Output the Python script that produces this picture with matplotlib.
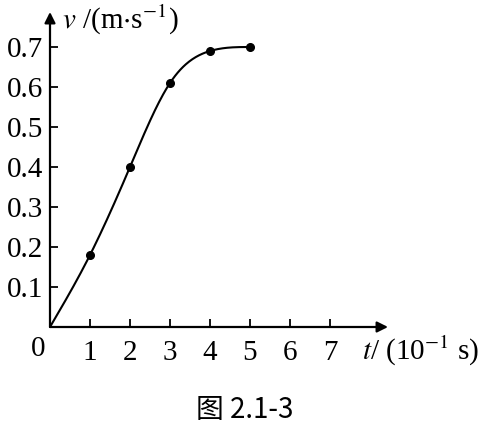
import numpy as np
import matplotlib
matplotlib.use('Agg')
import matplotlib.pyplot as plt

plt.rcParams['font.family'] = ['Liberation Serif', 'Noto Sans CJK SC', 'DejaVu Sans']
plt.rcParams['mathtext.fontset'] = 'stix'

t = [0, 1, 2, 3, 4, 5]
v = [0, 0.18, 0.40, 0.61, 0.69, 0.70]
xticks = [1, 2, 3, 4, 5, 6, 7]
yticks = [0.1, 0.2, 0.3, 0.4, 0.5, 0.6, 0.7]


def spline(x, y, xs):
    # natural cubic spline through the measured points
    x = np.asarray(x, float)
    y = np.asarray(y, float)
    n = len(x)
    h = np.diff(x)
    A = np.zeros((n, n))
    b = np.zeros(n)
    A[0, 0] = A[-1, -1] = 1
    for k in range(1, n - 1):
        A[k, k - 1] = h[k - 1]
        A[k, k] = 2 * (h[k - 1] + h[k])
        A[k, k + 1] = h[k]
        b[k] = 6 * ((y[k + 1] - y[k]) / h[k] - (y[k] - y[k - 1]) / h[k - 1])
    M = np.linalg.solve(A, b)
    idx = np.clip(np.searchsorted(x, xs) - 1, 0, n - 2)
    hk = h[idx]
    a = x[idx + 1] - xs
    c = xs - x[idx]
    return (M[idx] * a**3 / (6 * hk) + M[idx + 1] * c**3 / (6 * hk)
            + (y[idx] / hk - M[idx] * hk / 6) * a
            + (y[idx + 1] / hk - M[idx + 1] * hk / 6) * c)


fig = plt.figure(figsize=(4.8, 4.34), dpi=100)
ax = fig.add_axes([50 / 480, 107 / 434, 338 / 480, 315 / 434])
ax.set_xlim(0, 338 / 40)
ax.set_ylim(0, 315 / 400)
for s in ax.spines.values():
    s.set_visible(False)

# axes with arrows
ax.annotate('', xy=(1, 0), xytext=(0, 0), xycoords='axes fraction',
            arrowprops=dict(arrowstyle='-|>', color='black', lw=1.6,
                            mutation_scale=16, shrinkA=0, shrinkB=0))
ax.annotate('', xy=(0, 1), xytext=(0, 0), xycoords='axes fraction',
            arrowprops=dict(arrowstyle='-|>', color='black', lw=1.6,
                            mutation_scale=16, shrinkA=0, shrinkB=0))

ax.set_xticks(xticks)
ax.set_yticks(yticks)
ax.set_xticklabels([str(k) for k in xticks])
ax.set_yticklabels(['%.1f' % k for k in yticks])
ax.tick_params(direction='in', length=6, width=1.3, labelsize=21, pad=9)
ax.tick_params(axis='y', pad=5)

xs = np.linspace(0, 5, 300)
ax.plot(xs, spline(t, v, xs), color='black', lw=1.5)
ax.plot(t[1:], v[1:], 'o', color='black', ms=5.5)

fig.text(38 / 480, 1 - 349 / 434, '0', fontsize=21, ha='center', va='center')
fig.text(62 / 480, 1 - 20 / 434, r'$v$ /(m$\cdot$s$^{-1}$)', fontsize=21,
         ha='left', va='center')
fig.text(362 / 480, 1 - 351 / 434, r'$t$/ (10$^{-1}$ s)', fontsize=21,
         ha='left', va='center')
fig.text(245 / 480, 1 - 410 / 434, '图 2.1-3',
         family=['Noto Sans CJK SC', 'DejaVu Sans'], fontsize=20,
         ha='center', va='center')

fig.savefig('out.png', dpi=100)
